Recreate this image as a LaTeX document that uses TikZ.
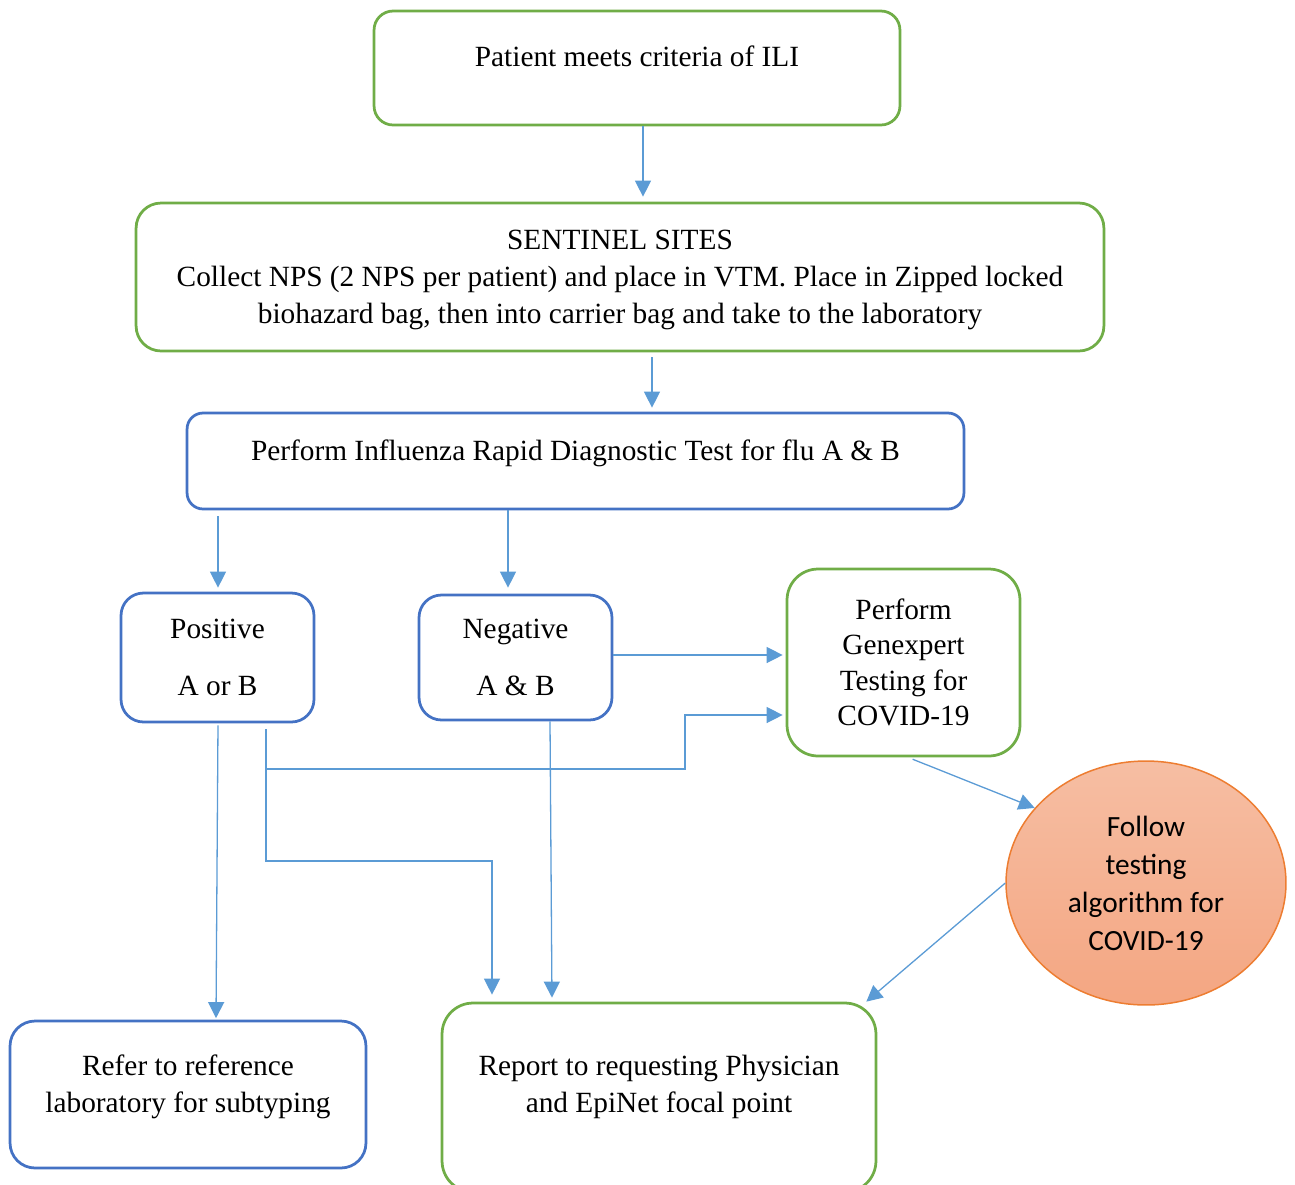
\documentclass[tikz,border=0pt]{standalone}
\usepackage{fontspec}
\setmainfont{Liberation Serif}
\newfontfamily\calibrifont{Carlito}
\usetikzlibrary{arrows.meta,shapes.geometric}
\newcommand{\padbelow}[1]{\rule[-#1]{0pt}{#1}}

\begin{document}
\begin{tikzpicture}[x=0.02cm,y=-0.02cm,font=\fontsize{16.7}{21}\selectfont,
  >={Triangle[width=0.32cm,length=0.32cm]},
  stagebox/.style={draw=#1,line width=0.055cm,fill=white,align=center,inner sep=0pt},
  flow/.style={->,draw=flowblue,line width=0.026cm}]
\definecolor{boxgreen}{HTML}{70AD47}
\definecolor{boxblue}{HTML}{4472C4}
\definecolor{flowblue}{HTML}{5B9BD5}
\definecolor{circorange}{HTML}{ED7D31}
\definecolor{circtop}{RGB}{246,190,163}
\definecolor{circbottom}{RGB}{244,166,130}
\useasboundingbox (0,0) rectangle (1295,1184);
% stages
\node[stagebox=boxgreen,rounded corners=0.38cm,minimum width=10.52cm,minimum height=2.28cm] (ili) at (637,68)
  {Patient meets criteria of ILI\padbelow{0.46cm}};
\node[stagebox=boxgreen,rounded corners=0.5cm,minimum width=19.36cm,minimum height=2.96cm] (sentinel) at (620,277)
  {\rule{0pt}{0.52cm}SENTINEL SITES\\Collect NPS (2 NPS per patient) and place in VTM. Place in Zipped locked\\biohazard bag, then into carrier bag and take to the laboratory};
\node[stagebox=boxblue,rounded corners=0.32cm,minimum width=15.54cm,minimum height=1.92cm] (rapid) at (575.5,461)
  {Perform Influenza Rapid Diagnostic Test for flu A \& B\padbelow{0.42cm}};
\node[stagebox=boxblue,rounded corners=0.45cm,minimum width=3.86cm,minimum height=2.58cm] (positive) at (217.5,657.5)
  {Positive\\[0.4cm]A or B};
\node[stagebox=boxblue,rounded corners=0.45cm,minimum width=3.86cm,minimum height=2.5cm] (negative) at (515.5,657.5)
  {Negative\\[0.4cm]A \& B};
\node[stagebox=boxgreen,rounded corners=0.62cm,minimum width=4.66cm,minimum height=3.74cm,
  font=\fontsize{16.7}{20.2}\selectfont] (genexpert) at (903.5,662.5)
  {Perform\\Genexpert\\Testing for\\COVID-19};
\node[ellipse,draw=circorange,line width=0.03cm,top color=circtop,bottom color=circbottom,
  minimum width=5.6cm,minimum height=4.88cm,inner sep=0pt,align=center,
  font=\calibrifont\fontsize{16.7}{21.6}\selectfont] (follow) at (1146,883)
  {Follow\\testing\\algorithm for\\COVID-19};
\node[stagebox=boxblue,rounded corners=0.5cm,minimum width=7.12cm,minimum height=2.94cm] (refer) at (188,1094.5)
  {Refer to reference\\laboratory for subtyping\padbelow{0.42cm}};
\node[stagebox=boxgreen,rounded corners=0.62cm,minimum width=8.68cm,minimum height=3.78cm] (report) at (659,1097.5)
  {Report to requesting Physician\\and EpiNet focal point\padbelow{0.54cm}};
% connectors
\coordinate (split) at (266,769);
\draw[flow,shorten >=0.1cm] (ili.south -| 643,0) -- (sentinel.north -| 643,0);
\draw[flow,shorten <=0.1cm,shorten >=0.08cm] (sentinel.south -| 652,0) -- (rapid.north -| 652,0);
\draw[flow,shorten <=0.12cm,shorten >=0.08cm] (rapid.south -| 218,0) -- (positive.north -| 218,0);
\draw[flow,shorten >=0.12cm] (rapid.south -| 508,0) -- (negative.north -| 508,0);
\draw[flow,shorten >=0.06cm] (negative.east |- 0,655) -- (genexpert.west |- 0,655);
\draw[flow,shorten <=0.12cm,shorten >=0.06cm] (positive.south -| 266,0) -- (split) -- (685,769) -- (685,715)
  -- (genexpert.west |- 0,715);
\draw[flow,shorten >=0.14cm] (split) -- (266,861) -- (492,861) -- (report.north -| 492,0);
\draw[flow,shorten <=0.04cm,shorten >=0.03cm] (positive.south -| 218,0) -- (refer.north -| 216,0);
\draw[flow,shorten >=0.08cm] (negative.south -| 550,0) -- (report.north -| 552,0);
\draw[flow,shorten <=0.1cm] (genexpert.south -| 908,0) -- (follow.146);
\draw[flow] (follow.west) -- ([xshift=-0.22cm]report.north east);
\end{tikzpicture}
\end{document}
